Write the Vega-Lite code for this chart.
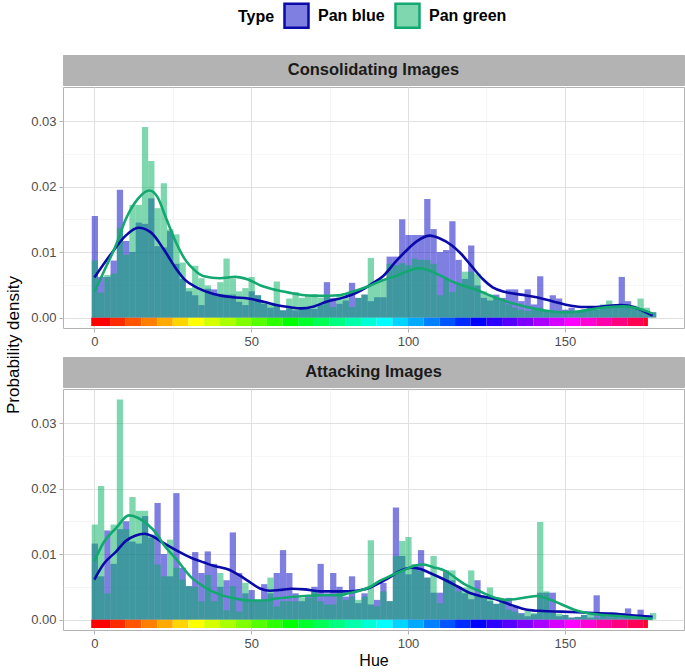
{
"$schema": "https://vega.github.io/schema/vega-lite/v6.json",
"padding": {"left": 4, "top": 2, "right": 2, "bottom": 2},
"background": "white",
"config": {
 "font": "Liberation Sans",
 "view": {"stroke": "#b3b3b3", "strokeWidth": 1},
 "axis": {"domain": false, "grid": true, "labelColor": "#4d4d4d", "labelFontSize": 13, "labelPadding": 3, "tickColor": "#b3b3b3", "tickSize": 4, "titleFontWeight": "normal", "titleColor": "#000000", "gridColor": "#e3e3e3"}
},
"datasets": {
 "band": [
  {"band":0,"start":-1,"end":5},{"band":1,"start":5,"end":10},{"band":2,"start":10,"end":15},{"band":3,"start":15,"end":20},{"band":4,"start":20,"end":25},{"band":5,"start":25,"end":30},{"band":6,"start":30,"end":35},{"band":7,"start":35,"end":40},{"band":8,"start":40,"end":45},{"band":9,"start":45,"end":50},{"band":10,"start":50,"end":55},{"band":11,"start":55,"end":60},{"band":12,"start":60,"end":65},{"band":13,"start":65,"end":70},{"band":14,"start":70,"end":75},{"band":15,"start":75,"end":80},{"band":16,"start":80,"end":85},{"band":17,"start":85,"end":90},{"band":18,"start":90,"end":95},{"band":19,"start":95,"end":100},{"band":20,"start":100,"end":105},{"band":21,"start":105,"end":110},{"band":22,"start":110,"end":115},{"band":23,"start":115,"end":120},{"band":24,"start":120,"end":125},{"band":25,"start":125,"end":130},{"band":26,"start":130,"end":135},{"band":27,"start":135,"end":140},{"band":28,"start":140,"end":145},{"band":29,"start":145,"end":150},{"band":30,"start":150,"end":155},{"band":31,"start":155,"end":160},{"band":32,"start":160,"end":165},{"band":33,"start":165,"end":170},{"band":34,"start":170,"end":175},{"band":35,"start":175,"end":176.5}
 ],
 "bars": [
{"panel":"Consolidating","type":"Pan blue","hue":0,"density":0.0155},{"panel":"Consolidating","type":"Pan blue","hue":2,"density":0.0062},{"panel":"Consolidating","type":"Pan blue","hue":4,"density":0.0062},{"panel":"Consolidating","type":"Pan blue","hue":6,"density":0.0087},{"panel":"Consolidating","type":"Pan blue","hue":8,"density":0.0195},{"panel":"Consolidating","type":"Pan blue","hue":10,"density":0.0117},{"panel":"Consolidating","type":"Pan blue","hue":12,"density":0.0100},{"panel":"Consolidating","type":"Pan blue","hue":14,"density":0.0145},{"panel":"Consolidating","type":"Pan blue","hue":16,"density":0.0143},{"panel":"Consolidating","type":"Pan blue","hue":18,"density":0.0182},
{"panel":"Consolidating","type":"Pan blue","hue":20,"density":0.0109},{"panel":"Consolidating","type":"Pan blue","hue":22,"density":0.0107},{"panel":"Consolidating","type":"Pan blue","hue":24,"density":0.0132},{"panel":"Consolidating","type":"Pan blue","hue":26,"density":0.0082},{"panel":"Consolidating","type":"Pan blue","hue":28,"density":0.0059},{"panel":"Consolidating","type":"Pan blue","hue":30,"density":0.0040},{"panel":"Consolidating","type":"Pan blue","hue":32,"density":0.0034},{"panel":"Consolidating","type":"Pan blue","hue":34,"density":0.0019},{"panel":"Consolidating","type":"Pan blue","hue":36,"density":0.0044},{"panel":"Consolidating","type":"Pan blue","hue":38,"density":0.0043},
{"panel":"Consolidating","type":"Pan blue","hue":40,"density":0.0035},{"panel":"Consolidating","type":"Pan blue","hue":42,"density":0.0035},{"panel":"Consolidating","type":"Pan blue","hue":44,"density":0.0035},{"panel":"Consolidating","type":"Pan blue","hue":46,"density":0.0024},{"panel":"Consolidating","type":"Pan blue","hue":48,"density":0.0019},{"panel":"Consolidating","type":"Pan blue","hue":50,"density":0.0040},{"panel":"Consolidating","type":"Pan blue","hue":52,"density":0.0034},{"panel":"Consolidating","type":"Pan blue","hue":54,"density":0.0021},{"panel":"Consolidating","type":"Pan blue","hue":56,"density":0.0015},{"panel":"Consolidating","type":"Pan blue","hue":58,"density":0.0019},
{"panel":"Consolidating","type":"Pan blue","hue":60,"density":0.0011},{"panel":"Consolidating","type":"Pan blue","hue":62,"density":0.0014},{"panel":"Consolidating","type":"Pan blue","hue":64,"density":0.0011},{"panel":"Consolidating","type":"Pan blue","hue":66,"density":0.0015},{"panel":"Consolidating","type":"Pan blue","hue":68,"density":0.0013},{"panel":"Consolidating","type":"Pan blue","hue":70,"density":0.0013},{"panel":"Consolidating","type":"Pan blue","hue":72,"density":0.0020},{"panel":"Consolidating","type":"Pan blue","hue":74,"density":0.0054},{"panel":"Consolidating","type":"Pan blue","hue":76,"density":0.0030},{"panel":"Consolidating","type":"Pan blue","hue":78,"density":0.0021},
{"panel":"Consolidating","type":"Pan blue","hue":80,"density":0.0026},{"panel":"Consolidating","type":"Pan blue","hue":82,"density":0.0053},{"panel":"Consolidating","type":"Pan blue","hue":84,"density":0.0030},{"panel":"Consolidating","type":"Pan blue","hue":86,"density":0.0035},{"panel":"Consolidating","type":"Pan blue","hue":88,"density":0.0025},{"panel":"Consolidating","type":"Pan blue","hue":90,"density":0.0031},{"panel":"Consolidating","type":"Pan blue","hue":92,"density":0.0031},{"panel":"Consolidating","type":"Pan blue","hue":94,"density":0.0093},{"panel":"Consolidating","type":"Pan blue","hue":96,"density":0.0093},{"panel":"Consolidating","type":"Pan blue","hue":98,"density":0.0150},
{"panel":"Consolidating","type":"Pan blue","hue":100,"density":0.0126},{"panel":"Consolidating","type":"Pan blue","hue":102,"density":0.0126},{"panel":"Consolidating","type":"Pan blue","hue":104,"density":0.0126},{"panel":"Consolidating","type":"Pan blue","hue":106,"density":0.0181},{"panel":"Consolidating","type":"Pan blue","hue":108,"density":0.0135},{"panel":"Consolidating","type":"Pan blue","hue":110,"density":0.0100},{"panel":"Consolidating","type":"Pan blue","hue":112,"density":0.0103},{"panel":"Consolidating","type":"Pan blue","hue":114,"density":0.0147},{"panel":"Consolidating","type":"Pan blue","hue":116,"density":0.0088},{"panel":"Consolidating","type":"Pan blue","hue":118,"density":0.0059},
{"panel":"Consolidating","type":"Pan blue","hue":120,"density":0.0110},{"panel":"Consolidating","type":"Pan blue","hue":122,"density":0.0049},{"panel":"Consolidating","type":"Pan blue","hue":124,"density":0.0030},{"panel":"Consolidating","type":"Pan blue","hue":126,"density":0.0026},{"panel":"Consolidating","type":"Pan blue","hue":128,"density":0.0035},{"panel":"Consolidating","type":"Pan blue","hue":130,"density":0.0030},{"panel":"Consolidating","type":"Pan blue","hue":132,"density":0.0043},{"panel":"Consolidating","type":"Pan blue","hue":134,"density":0.0043},{"panel":"Consolidating","type":"Pan blue","hue":136,"density":0.0025},{"panel":"Consolidating","type":"Pan blue","hue":138,"density":0.0043},
{"panel":"Consolidating","type":"Pan blue","hue":140,"density":0.0020},{"panel":"Consolidating","type":"Pan blue","hue":142,"density":0.0063},{"panel":"Consolidating","type":"Pan blue","hue":144,"density":0.0010},{"panel":"Consolidating","type":"Pan blue","hue":146,"density":0.0034},{"panel":"Consolidating","type":"Pan blue","hue":148,"density":0.0029},{"panel":"Consolidating","type":"Pan blue","hue":150,"density":0.0012},{"panel":"Consolidating","type":"Pan blue","hue":152,"density":0.0015},{"panel":"Consolidating","type":"Pan blue","hue":154,"density":0.0010},{"panel":"Consolidating","type":"Pan blue","hue":156,"density":0.0012},{"panel":"Consolidating","type":"Pan blue","hue":158,"density":0.0015},
{"panel":"Consolidating","type":"Pan blue","hue":160,"density":0.0012},{"panel":"Consolidating","type":"Pan blue","hue":162,"density":0.0015},{"panel":"Consolidating","type":"Pan blue","hue":164,"density":0.0015},{"panel":"Consolidating","type":"Pan blue","hue":166,"density":0.0020},{"panel":"Consolidating","type":"Pan blue","hue":168,"density":0.0062},{"panel":"Consolidating","type":"Pan blue","hue":170,"density":0.0025},{"panel":"Consolidating","type":"Pan blue","hue":172,"density":0.0015},{"panel":"Consolidating","type":"Pan blue","hue":174,"density":0.0014},{"panel":"Consolidating","type":"Pan blue","hue":176,"density":0.0010},{"panel":"Consolidating","type":"Pan blue","hue":178,"density":0.0008},
{"panel":"Attacking","type":"Pan blue","hue":0,"density":0.0116},{"panel":"Attacking","type":"Pan blue","hue":2,"density":0.0066},{"panel":"Attacking","type":"Pan blue","hue":4,"density":0.0136},{"panel":"Attacking","type":"Pan blue","hue":6,"density":0.0085},{"panel":"Attacking","type":"Pan blue","hue":8,"density":0.0138},{"panel":"Attacking","type":"Pan blue","hue":10,"density":0.0150},{"panel":"Attacking","type":"Pan blue","hue":12,"density":0.0119},{"panel":"Attacking","type":"Pan blue","hue":14,"density":0.0116},{"panel":"Attacking","type":"Pan blue","hue":16,"density":0.0158},{"panel":"Attacking","type":"Pan blue","hue":18,"density":0.0125},
{"panel":"Attacking","type":"Pan blue","hue":20,"density":0.0178},{"panel":"Attacking","type":"Pan blue","hue":22,"density":0.0100},{"panel":"Attacking","type":"Pan blue","hue":24,"density":0.0066},{"panel":"Attacking","type":"Pan blue","hue":26,"density":0.0193},{"panel":"Attacking","type":"Pan blue","hue":28,"density":0.0079},{"panel":"Attacking","type":"Pan blue","hue":30,"density":0.0051},{"panel":"Attacking","type":"Pan blue","hue":32,"density":0.0103},{"panel":"Attacking","type":"Pan blue","hue":34,"density":0.0071},{"panel":"Attacking","type":"Pan blue","hue":36,"density":0.0104},{"panel":"Attacking","type":"Pan blue","hue":38,"density":0.0085},
{"panel":"Attacking","type":"Pan blue","hue":40,"density":0.0050},{"panel":"Attacking","type":"Pan blue","hue":42,"density":0.0060},{"panel":"Attacking","type":"Pan blue","hue":44,"density":0.0133},{"panel":"Attacking","type":"Pan blue","hue":46,"density":0.0071},{"panel":"Attacking","type":"Pan blue","hue":48,"density":0.0040},{"panel":"Attacking","type":"Pan blue","hue":50,"density":0.0045},{"panel":"Attacking","type":"Pan blue","hue":52,"density":0.0030},{"panel":"Attacking","type":"Pan blue","hue":54,"density":0.0054},{"panel":"Attacking","type":"Pan blue","hue":56,"density":0.0040},{"panel":"Attacking","type":"Pan blue","hue":58,"density":0.0071},
{"panel":"Attacking","type":"Pan blue","hue":60,"density":0.0106},{"panel":"Attacking","type":"Pan blue","hue":62,"density":0.0071},{"panel":"Attacking","type":"Pan blue","hue":64,"density":0.0040},{"panel":"Attacking","type":"Pan blue","hue":66,"density":0.0028},{"panel":"Attacking","type":"Pan blue","hue":68,"density":0.0035},{"panel":"Attacking","type":"Pan blue","hue":70,"density":0.0050},{"panel":"Attacking","type":"Pan blue","hue":72,"density":0.0085},{"panel":"Attacking","type":"Pan blue","hue":74,"density":0.0040},{"panel":"Attacking","type":"Pan blue","hue":76,"density":0.0071},{"panel":"Attacking","type":"Pan blue","hue":78,"density":0.0050},
{"panel":"Attacking","type":"Pan blue","hue":80,"density":0.0035},{"panel":"Attacking","type":"Pan blue","hue":82,"density":0.0066},{"panel":"Attacking","type":"Pan blue","hue":84,"density":0.0025},{"panel":"Attacking","type":"Pan blue","hue":86,"density":0.0040},{"panel":"Attacking","type":"Pan blue","hue":88,"density":0.0023},{"panel":"Attacking","type":"Pan blue","hue":90,"density":0.0030},{"panel":"Attacking","type":"Pan blue","hue":92,"density":0.0056},{"panel":"Attacking","type":"Pan blue","hue":94,"density":0.0028},{"panel":"Attacking","type":"Pan blue","hue":96,"density":0.0171},{"panel":"Attacking","type":"Pan blue","hue":98,"density":0.0097},
{"panel":"Attacking","type":"Pan blue","hue":100,"density":0.0069},{"panel":"Attacking","type":"Pan blue","hue":102,"density":0.0084},{"panel":"Attacking","type":"Pan blue","hue":104,"density":0.0106},{"panel":"Attacking","type":"Pan blue","hue":106,"density":0.0064},{"panel":"Attacking","type":"Pan blue","hue":108,"density":0.0041},{"panel":"Attacking","type":"Pan blue","hue":110,"density":0.0041},{"panel":"Attacking","type":"Pan blue","hue":112,"density":0.0075},{"panel":"Attacking","type":"Pan blue","hue":114,"density":0.0060},{"panel":"Attacking","type":"Pan blue","hue":116,"density":0.0050},{"panel":"Attacking","type":"Pan blue","hue":118,"density":0.0040},
{"panel":"Attacking","type":"Pan blue","hue":120,"density":0.0031},{"panel":"Attacking","type":"Pan blue","hue":122,"density":0.0060},{"panel":"Attacking","type":"Pan blue","hue":124,"density":0.0035},{"panel":"Attacking","type":"Pan blue","hue":126,"density":0.0028},{"panel":"Attacking","type":"Pan blue","hue":128,"density":0.0024},{"panel":"Attacking","type":"Pan blue","hue":130,"density":0.0030},{"panel":"Attacking","type":"Pan blue","hue":132,"density":0.0033},{"panel":"Attacking","type":"Pan blue","hue":134,"density":0.0020},{"panel":"Attacking","type":"Pan blue","hue":136,"density":0.0010},{"panel":"Attacking","type":"Pan blue","hue":138,"density":0.0005},
{"panel":"Attacking","type":"Pan blue","hue":140,"density":0.0008},{"panel":"Attacking","type":"Pan blue","hue":142,"density":0.0041},{"panel":"Attacking","type":"Pan blue","hue":144,"density":0.0041},{"panel":"Attacking","type":"Pan blue","hue":146,"density":0.0041},{"panel":"Attacking","type":"Pan blue","hue":148,"density":0.0005},{"panel":"Attacking","type":"Pan blue","hue":150,"density":0.0007},{"panel":"Attacking","type":"Pan blue","hue":152,"density":0.0003},{"panel":"Attacking","type":"Pan blue","hue":154,"density":0.0004},{"panel":"Attacking","type":"Pan blue","hue":156,"density":0.0007},{"panel":"Attacking","type":"Pan blue","hue":158,"density":0.0003},
{"panel":"Attacking","type":"Pan blue","hue":160,"density":0.0037},{"panel":"Attacking","type":"Pan blue","hue":162,"density":0.0008},{"panel":"Attacking","type":"Pan blue","hue":164,"density":0.0005},{"panel":"Attacking","type":"Pan blue","hue":166,"density":0.0006},{"panel":"Attacking","type":"Pan blue","hue":168,"density":0.0010},{"panel":"Attacking","type":"Pan blue","hue":170,"density":0.0017},{"panel":"Attacking","type":"Pan blue","hue":172,"density":0.0007},{"panel":"Attacking","type":"Pan blue","hue":174,"density":0.0015},{"panel":"Attacking","type":"Pan blue","hue":176,"density":0.0006},{"panel":"Attacking","type":"Pan blue","hue":178,"density":0.0000},
{"panel":"Consolidating","type":"Pan green","hue":0,"density":0.0087},{"panel":"Consolidating","type":"Pan green","hue":2,"density":0.0038},{"panel":"Consolidating","type":"Pan green","hue":4,"density":0.0065},{"panel":"Consolidating","type":"Pan green","hue":6,"density":0.0067},{"panel":"Consolidating","type":"Pan green","hue":8,"density":0.0137},{"panel":"Consolidating","type":"Pan green","hue":10,"density":0.0096},{"panel":"Consolidating","type":"Pan green","hue":12,"density":0.0172},{"panel":"Consolidating","type":"Pan green","hue":14,"density":0.0172},{"panel":"Consolidating","type":"Pan green","hue":16,"density":0.0291},{"panel":"Consolidating","type":"Pan green","hue":18,"density":0.0239},
{"panel":"Consolidating","type":"Pan green","hue":20,"density":0.0167},{"panel":"Consolidating","type":"Pan green","hue":22,"density":0.0205},{"panel":"Consolidating","type":"Pan green","hue":24,"density":0.0135},{"panel":"Consolidating","type":"Pan green","hue":26,"density":0.0127},{"panel":"Consolidating","type":"Pan green","hue":28,"density":0.0084},{"panel":"Consolidating","type":"Pan green","hue":30,"density":0.0045},{"panel":"Consolidating","type":"Pan green","hue":32,"density":0.0079},{"panel":"Consolidating","type":"Pan green","hue":34,"density":0.0060},{"panel":"Consolidating","type":"Pan green","hue":36,"density":0.0049},{"panel":"Consolidating","type":"Pan green","hue":38,"density":0.0034},
{"panel":"Consolidating","type":"Pan green","hue":40,"density":0.0054},{"panel":"Consolidating","type":"Pan green","hue":42,"density":0.0090},{"panel":"Consolidating","type":"Pan green","hue":44,"density":0.0059},{"panel":"Consolidating","type":"Pan green","hue":46,"density":0.0040},{"panel":"Consolidating","type":"Pan green","hue":48,"density":0.0045},{"panel":"Consolidating","type":"Pan green","hue":50,"density":0.0062},{"panel":"Consolidating","type":"Pan green","hue":52,"density":0.0034},{"panel":"Consolidating","type":"Pan green","hue":54,"density":0.0024},{"panel":"Consolidating","type":"Pan green","hue":56,"density":0.0020},{"panel":"Consolidating","type":"Pan green","hue":58,"density":0.0055},
{"panel":"Consolidating","type":"Pan green","hue":60,"density":0.0011},{"panel":"Consolidating","type":"Pan green","hue":62,"density":0.0029},{"panel":"Consolidating","type":"Pan green","hue":64,"density":0.0039},{"panel":"Consolidating","type":"Pan green","hue":66,"density":0.0030},{"panel":"Consolidating","type":"Pan green","hue":68,"density":0.0035},{"panel":"Consolidating","type":"Pan green","hue":70,"density":0.0036},{"panel":"Consolidating","type":"Pan green","hue":72,"density":0.0030},{"panel":"Consolidating","type":"Pan green","hue":74,"density":0.0034},{"panel":"Consolidating","type":"Pan green","hue":76,"density":0.0016},{"panel":"Consolidating","type":"Pan green","hue":78,"density":0.0036},
{"panel":"Consolidating","type":"Pan green","hue":80,"density":0.0030},{"panel":"Consolidating","type":"Pan green","hue":82,"density":0.0016},{"panel":"Consolidating","type":"Pan green","hue":84,"density":0.0030},{"panel":"Consolidating","type":"Pan green","hue":86,"density":0.0035},{"panel":"Consolidating","type":"Pan green","hue":88,"density":0.0091},{"panel":"Consolidating","type":"Pan green","hue":90,"density":0.0055},{"panel":"Consolidating","type":"Pan green","hue":92,"density":0.0059},{"panel":"Consolidating","type":"Pan green","hue":94,"density":0.0082},{"panel":"Consolidating","type":"Pan green","hue":96,"density":0.0080},{"panel":"Consolidating","type":"Pan green","hue":98,"density":0.0083},
{"panel":"Consolidating","type":"Pan green","hue":100,"density":0.0080},{"panel":"Consolidating","type":"Pan green","hue":102,"density":0.0090},{"panel":"Consolidating","type":"Pan green","hue":104,"density":0.0088},{"panel":"Consolidating","type":"Pan green","hue":106,"density":0.0088},{"panel":"Consolidating","type":"Pan green","hue":108,"density":0.0082},{"panel":"Consolidating","type":"Pan green","hue":110,"density":0.0034},{"panel":"Consolidating","type":"Pan green","hue":112,"density":0.0059},{"panel":"Consolidating","type":"Pan green","hue":114,"density":0.0039},{"panel":"Consolidating","type":"Pan green","hue":116,"density":0.0049},{"panel":"Consolidating","type":"Pan green","hue":118,"density":0.0070},
{"panel":"Consolidating","type":"Pan green","hue":120,"density":0.0070},{"panel":"Consolidating","type":"Pan green","hue":122,"density":0.0067},{"panel":"Consolidating","type":"Pan green","hue":124,"density":0.0040},{"panel":"Consolidating","type":"Pan green","hue":126,"density":0.0035},{"panel":"Consolidating","type":"Pan green","hue":128,"density":0.0030},{"panel":"Consolidating","type":"Pan green","hue":130,"density":0.0025},{"panel":"Consolidating","type":"Pan green","hue":132,"density":0.0020},{"panel":"Consolidating","type":"Pan green","hue":134,"density":0.0015},{"panel":"Consolidating","type":"Pan green","hue":136,"density":0.0012},{"panel":"Consolidating","type":"Pan green","hue":138,"density":0.0010},
{"panel":"Consolidating","type":"Pan green","hue":140,"density":0.0012},{"panel":"Consolidating","type":"Pan green","hue":142,"density":0.0015},{"panel":"Consolidating","type":"Pan green","hue":144,"density":0.0010},{"panel":"Consolidating","type":"Pan green","hue":146,"density":0.0008},{"panel":"Consolidating","type":"Pan green","hue":148,"density":0.0010},{"panel":"Consolidating","type":"Pan green","hue":150,"density":0.0008},{"panel":"Consolidating","type":"Pan green","hue":152,"density":0.0007},{"panel":"Consolidating","type":"Pan green","hue":154,"density":0.0010},{"panel":"Consolidating","type":"Pan green","hue":156,"density":0.0012},{"panel":"Consolidating","type":"Pan green","hue":158,"density":0.0015},
{"panel":"Consolidating","type":"Pan green","hue":160,"density":0.0015},{"panel":"Consolidating","type":"Pan green","hue":162,"density":0.0020},{"panel":"Consolidating","type":"Pan green","hue":164,"density":0.0026},{"panel":"Consolidating","type":"Pan green","hue":166,"density":0.0018},{"panel":"Consolidating","type":"Pan green","hue":168,"density":0.0015},{"panel":"Consolidating","type":"Pan green","hue":170,"density":0.0020},{"panel":"Consolidating","type":"Pan green","hue":172,"density":0.0018},{"panel":"Consolidating","type":"Pan green","hue":174,"density":0.0029},{"panel":"Consolidating","type":"Pan green","hue":176,"density":0.0015},{"panel":"Consolidating","type":"Pan green","hue":178,"density":0.0008},
{"panel":"Attacking","type":"Pan green","hue":0,"density":0.0145},{"panel":"Attacking","type":"Pan green","hue":2,"density":0.0204},{"panel":"Attacking","type":"Pan green","hue":4,"density":0.0040},{"panel":"Attacking","type":"Pan green","hue":6,"density":0.0145},{"panel":"Attacking","type":"Pan green","hue":8,"density":0.0336},{"panel":"Attacking","type":"Pan green","hue":10,"density":0.0138},{"panel":"Attacking","type":"Pan green","hue":12,"density":0.0187},{"panel":"Attacking","type":"Pan green","hue":14,"density":0.0166},{"panel":"Attacking","type":"Pan green","hue":16,"density":0.0166},{"panel":"Attacking","type":"Pan green","hue":18,"density":0.0130},
{"panel":"Attacking","type":"Pan green","hue":20,"density":0.0084},{"panel":"Attacking","type":"Pan green","hue":22,"density":0.0066},{"panel":"Attacking","type":"Pan green","hue":24,"density":0.0122},{"panel":"Attacking","type":"Pan green","hue":26,"density":0.0079},{"panel":"Attacking","type":"Pan green","hue":28,"density":0.0061},{"panel":"Attacking","type":"Pan green","hue":30,"density":0.0051},{"panel":"Attacking","type":"Pan green","hue":32,"density":0.0050},{"panel":"Attacking","type":"Pan green","hue":34,"density":0.0028},{"panel":"Attacking","type":"Pan green","hue":36,"density":0.0068},{"panel":"Attacking","type":"Pan green","hue":38,"density":0.0028},
{"panel":"Attacking","type":"Pan green","hue":40,"density":0.0071},{"panel":"Attacking","type":"Pan green","hue":42,"density":0.0014},{"panel":"Attacking","type":"Pan green","hue":44,"density":0.0051},{"panel":"Attacking","type":"Pan green","hue":46,"density":0.0012},{"panel":"Attacking","type":"Pan green","hue":48,"density":0.0056},{"panel":"Attacking","type":"Pan green","hue":50,"density":0.0028},{"panel":"Attacking","type":"Pan green","hue":52,"density":0.0028},{"panel":"Attacking","type":"Pan green","hue":54,"density":0.0028},{"panel":"Attacking","type":"Pan green","hue":56,"density":0.0064},{"panel":"Attacking","type":"Pan green","hue":58,"density":0.0020},
{"panel":"Attacking","type":"Pan green","hue":60,"density":0.0028},{"panel":"Attacking","type":"Pan green","hue":62,"density":0.0028},{"panel":"Attacking","type":"Pan green","hue":64,"density":0.0028},{"panel":"Attacking","type":"Pan green","hue":66,"density":0.0033},{"panel":"Attacking","type":"Pan green","hue":68,"density":0.0033},{"panel":"Attacking","type":"Pan green","hue":70,"density":0.0045},{"panel":"Attacking","type":"Pan green","hue":72,"density":0.0028},{"panel":"Attacking","type":"Pan green","hue":74,"density":0.0023},{"panel":"Attacking","type":"Pan green","hue":76,"density":0.0023},{"panel":"Attacking","type":"Pan green","hue":78,"density":0.0045},
{"panel":"Attacking","type":"Pan green","hue":80,"density":0.0030},{"panel":"Attacking","type":"Pan green","hue":82,"density":0.0035},{"panel":"Attacking","type":"Pan green","hue":84,"density":0.0030},{"panel":"Attacking","type":"Pan green","hue":86,"density":0.0035},{"panel":"Attacking","type":"Pan green","hue":88,"density":0.0121},{"panel":"Attacking","type":"Pan green","hue":90,"density":0.0020},{"panel":"Attacking","type":"Pan green","hue":92,"density":0.0043},{"panel":"Attacking","type":"Pan green","hue":94,"density":0.0028},{"panel":"Attacking","type":"Pan green","hue":96,"density":0.0097},{"panel":"Attacking","type":"Pan green","hue":98,"density":0.0120},
{"panel":"Attacking","type":"Pan green","hue":100,"density":0.0126},{"panel":"Attacking","type":"Pan green","hue":102,"density":0.0084},{"panel":"Attacking","type":"Pan green","hue":104,"density":0.0074},{"panel":"Attacking","type":"Pan green","hue":106,"density":0.0064},{"panel":"Attacking","type":"Pan green","hue":108,"density":0.0097},{"panel":"Attacking","type":"Pan green","hue":110,"density":0.0025},{"panel":"Attacking","type":"Pan green","hue":112,"density":0.0071},{"panel":"Attacking","type":"Pan green","hue":114,"density":0.0075},{"panel":"Attacking","type":"Pan green","hue":116,"density":0.0043},{"panel":"Attacking","type":"Pan green","hue":118,"density":0.0049},
{"panel":"Attacking","type":"Pan green","hue":120,"density":0.0075},{"panel":"Attacking","type":"Pan green","hue":122,"density":0.0038},{"panel":"Attacking","type":"Pan green","hue":124,"density":0.0035},{"panel":"Attacking","type":"Pan green","hue":126,"density":0.0049},{"panel":"Attacking","type":"Pan green","hue":128,"density":0.0024},{"panel":"Attacking","type":"Pan green","hue":130,"density":0.0028},{"panel":"Attacking","type":"Pan green","hue":132,"density":0.0015},{"panel":"Attacking","type":"Pan green","hue":134,"density":0.0012},{"panel":"Attacking","type":"Pan green","hue":136,"density":0.0008},{"panel":"Attacking","type":"Pan green","hue":138,"density":0.0013},
{"panel":"Attacking","type":"Pan green","hue":140,"density":0.0010},{"panel":"Attacking","type":"Pan green","hue":142,"density":0.0149},{"panel":"Attacking","type":"Pan green","hue":144,"density":0.0043},{"panel":"Attacking","type":"Pan green","hue":146,"density":0.0010},{"panel":"Attacking","type":"Pan green","hue":148,"density":0.0009},{"panel":"Attacking","type":"Pan green","hue":150,"density":0.0007},{"panel":"Attacking","type":"Pan green","hue":152,"density":0.0003},{"panel":"Attacking","type":"Pan green","hue":154,"density":0.0004},{"panel":"Attacking","type":"Pan green","hue":156,"density":0.0007},{"panel":"Attacking","type":"Pan green","hue":158,"density":0.0008},
{"panel":"Attacking","type":"Pan green","hue":160,"density":0.0003},{"panel":"Attacking","type":"Pan green","hue":162,"density":0.0005},{"panel":"Attacking","type":"Pan green","hue":164,"density":0.0003},{"panel":"Attacking","type":"Pan green","hue":166,"density":0.0004},{"panel":"Attacking","type":"Pan green","hue":168,"density":0.0002},{"panel":"Attacking","type":"Pan green","hue":170,"density":0.0003},{"panel":"Attacking","type":"Pan green","hue":172,"density":0.0002},{"panel":"Attacking","type":"Pan green","hue":174,"density":0.0002},{"panel":"Attacking","type":"Pan green","hue":176,"density":0.0003},{"panel":"Attacking","type":"Pan green","hue":178,"density":0.0010}
 ],
 "curves": [
{"panel":"Consolidating","type":"Pan blue","hue":0,"density":0.0061},{"panel":"Consolidating","type":"Pan blue","hue":5,"density":0.0095},{"panel":"Consolidating","type":"Pan blue","hue":10,"density":0.0125},{"panel":"Consolidating","type":"Pan blue","hue":14,"density":0.0137},{"panel":"Consolidating","type":"Pan blue","hue":18,"density":0.0130},{"panel":"Consolidating","type":"Pan blue","hue":22,"density":0.0105},{"panel":"Consolidating","type":"Pan blue","hue":26,"density":0.0075},{"panel":"Consolidating","type":"Pan blue","hue":29,"density":0.0057},{"panel":"Consolidating","type":"Pan blue","hue":33,"density":0.0045},{"panel":"Consolidating","type":"Pan blue","hue":38,"density":0.0036},{"panel":"Consolidating","type":"Pan blue","hue":44,"density":0.0031},{"panel":"Consolidating","type":"Pan blue","hue":49,"density":0.0029},{"panel":"Consolidating","type":"Pan blue","hue":54,"density":0.0024},{"panel":"Consolidating","type":"Pan blue","hue":58,"density":0.0019},{"panel":"Consolidating","type":"Pan blue","hue":62,"density":0.0016},{"panel":"Consolidating","type":"Pan blue","hue":66,"density":0.0014},{"panel":"Consolidating","type":"Pan blue","hue":70,"density":0.0017},{"panel":"Consolidating","type":"Pan blue","hue":74,"density":0.0024},{"panel":"Consolidating","type":"Pan blue","hue":79,"density":0.0030},{"panel":"Consolidating","type":"Pan blue","hue":84,"density":0.0039},{"panel":"Consolidating","type":"Pan blue","hue":88,"density":0.0050},{"panel":"Consolidating","type":"Pan blue","hue":92,"density":0.0063},{"panel":"Consolidating","type":"Pan blue","hue":96,"density":0.0085},{"panel":"Consolidating","type":"Pan blue","hue":99,"density":0.0100},{"panel":"Consolidating","type":"Pan blue","hue":103,"density":0.0117},{"panel":"Consolidating","type":"Pan blue","hue":107,"density":0.0125},{"panel":"Consolidating","type":"Pan blue","hue":110,"density":0.0121},{"panel":"Consolidating","type":"Pan blue","hue":114,"density":0.0110},{"panel":"Consolidating","type":"Pan blue","hue":117,"density":0.0097},{"panel":"Consolidating","type":"Pan blue","hue":120,"density":0.0080},{"panel":"Consolidating","type":"Pan blue","hue":124,"density":0.0058},{"panel":"Consolidating","type":"Pan blue","hue":127,"density":0.0046},{"panel":"Consolidating","type":"Pan blue","hue":131,"density":0.0039},{"panel":"Consolidating","type":"Pan blue","hue":136,"density":0.0035},{"panel":"Consolidating","type":"Pan blue","hue":141,"density":0.0031},{"panel":"Consolidating","type":"Pan blue","hue":146,"density":0.0025},{"panel":"Consolidating","type":"Pan blue","hue":152,"density":0.0018},{"panel":"Consolidating","type":"Pan blue","hue":156,"density":0.0016},{"panel":"Consolidating","type":"Pan blue","hue":160,"density":0.0016},{"panel":"Consolidating","type":"Pan blue","hue":164,"density":0.0018},{"panel":"Consolidating","type":"Pan blue","hue":168,"density":0.0019},{"panel":"Consolidating","type":"Pan blue","hue":172,"density":0.0016},{"panel":"Consolidating","type":"Pan blue","hue":175,"density":0.0010},{"panel":"Consolidating","type":"Pan blue","hue":178,"density":0.0003},
{"panel":"Consolidating","type":"Pan green","hue":0,"density":0.0039},{"panel":"Consolidating","type":"Pan green","hue":3,"density":0.0070},{"panel":"Consolidating","type":"Pan green","hue":7,"density":0.0112},{"panel":"Consolidating","type":"Pan green","hue":10,"density":0.0150},{"panel":"Consolidating","type":"Pan green","hue":14,"density":0.0182},{"panel":"Consolidating","type":"Pan green","hue":17.5,"density":0.0194},{"panel":"Consolidating","type":"Pan green","hue":20,"density":0.0185},{"panel":"Consolidating","type":"Pan green","hue":23,"density":0.0150},{"panel":"Consolidating","type":"Pan green","hue":26,"density":0.0115},{"panel":"Consolidating","type":"Pan green","hue":29,"density":0.0088},{"panel":"Consolidating","type":"Pan green","hue":32,"density":0.0072},{"panel":"Consolidating","type":"Pan green","hue":35,"density":0.0063},{"panel":"Consolidating","type":"Pan green","hue":40,"density":0.0060},{"panel":"Consolidating","type":"Pan green","hue":45,"density":0.0062},{"panel":"Consolidating","type":"Pan green","hue":49,"density":0.0058},{"panel":"Consolidating","type":"Pan green","hue":53,"density":0.0049},{"panel":"Consolidating","type":"Pan green","hue":58,"density":0.0042},{"panel":"Consolidating","type":"Pan green","hue":62,"density":0.0038},{"panel":"Consolidating","type":"Pan green","hue":67,"density":0.0034},{"panel":"Consolidating","type":"Pan green","hue":72,"density":0.0033},{"panel":"Consolidating","type":"Pan green","hue":78,"density":0.0034},{"panel":"Consolidating","type":"Pan green","hue":82,"density":0.0039},{"panel":"Consolidating","type":"Pan green","hue":88,"density":0.0049},{"panel":"Consolidating","type":"Pan green","hue":92,"density":0.0057},{"panel":"Consolidating","type":"Pan green","hue":97,"density":0.0065},{"panel":"Consolidating","type":"Pan green","hue":100,"density":0.0071},{"panel":"Consolidating","type":"Pan green","hue":103,"density":0.0075},{"panel":"Consolidating","type":"Pan green","hue":106,"density":0.0073},{"panel":"Consolidating","type":"Pan green","hue":109,"density":0.0067},{"panel":"Consolidating","type":"Pan green","hue":112,"density":0.0060},{"panel":"Consolidating","type":"Pan green","hue":115,"density":0.0053},{"panel":"Consolidating","type":"Pan green","hue":118,"density":0.0048},{"panel":"Consolidating","type":"Pan green","hue":122,"density":0.0042},{"panel":"Consolidating","type":"Pan green","hue":127,"density":0.0032},{"panel":"Consolidating","type":"Pan green","hue":133,"density":0.0022},{"panel":"Consolidating","type":"Pan green","hue":138,"density":0.0016},{"panel":"Consolidating","type":"Pan green","hue":143,"density":0.0011},{"panel":"Consolidating","type":"Pan green","hue":149,"density":0.0008},{"panel":"Consolidating","type":"Pan green","hue":154,"density":0.0009},{"panel":"Consolidating","type":"Pan green","hue":159,"density":0.0013},{"panel":"Consolidating","type":"Pan green","hue":164,"density":0.0016},{"panel":"Consolidating","type":"Pan green","hue":169,"density":0.0017},{"panel":"Consolidating","type":"Pan green","hue":173,"density":0.0014},{"panel":"Consolidating","type":"Pan green","hue":178,"density":0.0006},
{"panel":"Attacking","type":"Pan blue","hue":0,"density":0.0061},{"panel":"Attacking","type":"Pan blue","hue":3,"density":0.0085},{"panel":"Attacking","type":"Pan blue","hue":7,"density":0.0104},{"panel":"Attacking","type":"Pan blue","hue":10,"density":0.0120},{"panel":"Attacking","type":"Pan blue","hue":13,"density":0.0128},{"panel":"Attacking","type":"Pan blue","hue":16,"density":0.0131},{"panel":"Attacking","type":"Pan blue","hue":19,"density":0.0126},{"panel":"Attacking","type":"Pan blue","hue":22,"density":0.0117},{"panel":"Attacking","type":"Pan blue","hue":26,"density":0.0106},{"panel":"Attacking","type":"Pan blue","hue":31,"density":0.0094},{"panel":"Attacking","type":"Pan blue","hue":35,"density":0.0087},{"panel":"Attacking","type":"Pan blue","hue":38,"density":0.0082},{"panel":"Attacking","type":"Pan blue","hue":43,"density":0.0076},{"panel":"Attacking","type":"Pan blue","hue":46,"density":0.0068},{"panel":"Attacking","type":"Pan blue","hue":49,"density":0.0059},{"panel":"Attacking","type":"Pan blue","hue":53,"density":0.0047},{"panel":"Attacking","type":"Pan blue","hue":56,"density":0.0044},{"panel":"Attacking","type":"Pan blue","hue":59,"density":0.0045},{"panel":"Attacking","type":"Pan blue","hue":63,"density":0.0047},{"panel":"Attacking","type":"Pan blue","hue":67,"density":0.0046},{"panel":"Attacking","type":"Pan blue","hue":72,"density":0.0043},{"panel":"Attacking","type":"Pan blue","hue":76,"density":0.0043},{"panel":"Attacking","type":"Pan blue","hue":81,"density":0.0043},{"panel":"Attacking","type":"Pan blue","hue":85,"density":0.0045},{"panel":"Attacking","type":"Pan blue","hue":88,"density":0.0049},{"panel":"Attacking","type":"Pan blue","hue":91,"density":0.0056},{"panel":"Attacking","type":"Pan blue","hue":94,"density":0.0064},{"panel":"Attacking","type":"Pan blue","hue":97,"density":0.0073},{"panel":"Attacking","type":"Pan blue","hue":101,"density":0.0079},{"panel":"Attacking","type":"Pan blue","hue":104,"density":0.0077},{"panel":"Attacking","type":"Pan blue","hue":107,"density":0.0071},{"panel":"Attacking","type":"Pan blue","hue":112,"density":0.0060},{"panel":"Attacking","type":"Pan blue","hue":116,"density":0.0050},{"panel":"Attacking","type":"Pan blue","hue":120,"density":0.0040},{"panel":"Attacking","type":"Pan blue","hue":124,"density":0.0035},{"panel":"Attacking","type":"Pan blue","hue":128,"density":0.0031},{"panel":"Attacking","type":"Pan blue","hue":133,"density":0.0022},{"panel":"Attacking","type":"Pan blue","hue":138,"density":0.0015},{"panel":"Attacking","type":"Pan blue","hue":143,"density":0.0013},{"panel":"Attacking","type":"Pan blue","hue":149,"density":0.0012},{"panel":"Attacking","type":"Pan blue","hue":154,"density":0.0011},{"panel":"Attacking","type":"Pan blue","hue":159,"density":0.0010},{"panel":"Attacking","type":"Pan blue","hue":165,"density":0.0009},{"panel":"Attacking","type":"Pan blue","hue":170,"density":0.0007},{"panel":"Attacking","type":"Pan blue","hue":178,"density":0.0004},
{"panel":"Attacking","type":"Pan green","hue":0,"density":0.0089},{"panel":"Attacking","type":"Pan green","hue":3,"density":0.0118},{"panel":"Attacking","type":"Pan green","hue":7,"density":0.0140},{"panel":"Attacking","type":"Pan green","hue":11,"density":0.0159},{"panel":"Attacking","type":"Pan green","hue":14,"density":0.0155},{"panel":"Attacking","type":"Pan green","hue":17,"density":0.0145},{"panel":"Attacking","type":"Pan green","hue":20,"density":0.0130},{"panel":"Attacking","type":"Pan green","hue":22,"density":0.0115},{"panel":"Attacking","type":"Pan green","hue":26,"density":0.0093},{"panel":"Attacking","type":"Pan green","hue":31,"density":0.0064},{"panel":"Attacking","type":"Pan green","hue":35,"density":0.0050},{"panel":"Attacking","type":"Pan green","hue":40,"density":0.0038},{"panel":"Attacking","type":"Pan green","hue":45,"density":0.0032},{"panel":"Attacking","type":"Pan green","hue":49,"density":0.0029},{"panel":"Attacking","type":"Pan green","hue":54,"density":0.0029},{"panel":"Attacking","type":"Pan green","hue":58,"density":0.0032},{"panel":"Attacking","type":"Pan green","hue":62,"density":0.0034},{"panel":"Attacking","type":"Pan green","hue":67,"density":0.0036},{"panel":"Attacking","type":"Pan green","hue":72,"density":0.0037},{"panel":"Attacking","type":"Pan green","hue":78,"density":0.0037},{"panel":"Attacking","type":"Pan green","hue":81,"density":0.0040},{"panel":"Attacking","type":"Pan green","hue":84,"density":0.0043},{"panel":"Attacking","type":"Pan green","hue":88,"density":0.0050},{"panel":"Attacking","type":"Pan green","hue":91,"density":0.0059},{"panel":"Attacking","type":"Pan green","hue":95,"density":0.0068},{"panel":"Attacking","type":"Pan green","hue":99,"density":0.0076},{"panel":"Attacking","type":"Pan green","hue":102,"density":0.0082},{"panel":"Attacking","type":"Pan green","hue":105,"density":0.0084},{"panel":"Attacking","type":"Pan green","hue":108,"density":0.0080},{"panel":"Attacking","type":"Pan green","hue":112,"density":0.0074},{"panel":"Attacking","type":"Pan green","hue":115,"density":0.0064},{"panel":"Attacking","type":"Pan green","hue":118,"density":0.0054},{"panel":"Attacking","type":"Pan green","hue":122,"density":0.0045},{"panel":"Attacking","type":"Pan green","hue":128,"density":0.0033},{"panel":"Attacking","type":"Pan green","hue":131,"density":0.0030},{"panel":"Attacking","type":"Pan green","hue":134,"density":0.0031},{"panel":"Attacking","type":"Pan green","hue":138,"density":0.0034},{"panel":"Attacking","type":"Pan green","hue":141,"density":0.0036},{"panel":"Attacking","type":"Pan green","hue":145,"density":0.0031},{"panel":"Attacking","type":"Pan green","hue":149,"density":0.0023},{"panel":"Attacking","type":"Pan green","hue":153,"density":0.0015},{"panel":"Attacking","type":"Pan green","hue":157,"density":0.0010},{"panel":"Attacking","type":"Pan green","hue":162,"density":0.0007},{"panel":"Attacking","type":"Pan green","hue":168,"density":0.0005},{"panel":"Attacking","type":"Pan green","hue":173,"density":0.0003},{"panel":"Attacking","type":"Pan green","hue":178,"density":0.0001}
 ]
},
"spacing": 8,
"hconcat": [
 {"width": 17, "height": 580, "data": {"values": [{"label": "Probability density"}]}, "view": {"stroke": null},
  "mark": {"type": "text", "angle": 270, "fontSize": 17, "color": "#000000"}, "encoding": {"text": {"field": "label"}}},
 {"spacing": 0, "vconcat": [
  {"width": 621, "height": 30, "data": {"values": [{"label": "Consolidating Images"}]}, "view": {"fill": "#b3b3b3", "stroke": "#b3b3b3"},
   "mark": {"type": "text", "fontWeight": "bold", "fontSize": 16.5, "color": "#1a1a1a"}, "encoding": {"text": {"field": "label"}}},
  {"width": 621, "height": 241,
   "layer": [
    {"data": {"name": "band"}, "mark": {"type": "rect"},
     "encoding": {
      "x": {"field": "start", "type": "quantitative", "scale": {"domain": [-10, 188], "nice": false, "zero": false},
        "axis": {"grid": true, "values": [0,25,50,75,100,125,150,175], "labelExpr": "datum.value % 50 === 0 ? datum.label : ''", "tickOpacity": {"condition": {"test": "datum.value % 50 !== 0", "value": 0}, "value": 1}, "gridWidth": {"condition": {"test": "datum.value % 50 !== 0", "value": 0.5}, "value": 1}, "gridColor": {"condition": {"test": "datum.value % 50 !== 0", "value": "#ececec"}, "value": "#e0e0e0"}, "title": " ", "titleFontSize": 4, "titlePadding": 3}},
      "x2": {"field": "end"},
      "y": {"datum": 0, "type": "quantitative", "scale": {"domain": [-0.0016, 0.0352], "nice": false, "zero": false},
        "axis": {"grid": true, "values": [0,0.005,0.01,0.015,0.02,0.025,0.03], "format": ".2f", "labelExpr": "round(datum.value*1000) % 10 === 0 ? datum.label : ''", "tickOpacity": {"condition": {"test": "round(datum.value*1000) % 10 !== 0", "value": 0}, "value": 1}, "gridWidth": {"condition": {"test": "round(datum.value*1000) % 10 !== 0", "value": 0.5}, "value": 1}, "gridColor": {"condition": {"test": "round(datum.value*1000) % 10 !== 0", "value": "#ececec"}, "value": "#e0e0e0"}, "title": null}},
      "y2": {"datum": -0.0013},
      "fill": {"field": "band", "type": "ordinal", "legend": null, "scale": {"range": ["#ff0000","#ff2b00","#ff5500","#ff8000","#ffaa00","#ffd500","#ffff00","#d5ff00","#aaff00","#80ff00","#55ff00","#2bff00","#00ff00","#00ff2b","#00ff55","#00ff80","#00ffaa","#00ffd5","#00ffff","#00d5ff","#00aaff","#0080ff","#0055ff","#002bff","#0000ff","#2b00ff","#5500ff","#8000ff","#aa00ff","#d500ff","#ff00ff","#ff00d5","#ff00aa","#ff0080","#ff0055","#ff002b"]}}
     }},
    {"data": {"name": "bars"}, "transform": [{"filter": {"field": "panel", "equal": "Consolidating"}}],
     "mark": {"type": "bar", "fillOpacity": 0.5, "binSpacing": 0},
     "encoding": {
      "x": {"field": "hue", "type": "quantitative", "bin": {"step": 2, "extent": [-1, 179], "nice": false, "anchor": -1}, "scale": {"domain": [-10, 188], "nice": false, "zero": false},
        "axis": {"grid": true, "values": [0,25,50,75,100,125,150,175], "labelExpr": "datum.value % 50 === 0 ? datum.label : ''", "tickOpacity": {"condition": {"test": "datum.value % 50 !== 0", "value": 0}, "value": 1}, "gridWidth": {"condition": {"test": "datum.value % 50 !== 0", "value": 0.5}, "value": 1}, "gridColor": {"condition": {"test": "datum.value % 50 !== 0", "value": "#ececec"}, "value": "#e0e0e0"}, "title": " ", "titleFontSize": 4, "titlePadding": 3}},
      "y": {"field": "density", "aggregate": "sum", "type": "quantitative", "stack": null, "scale": {"domain": [-0.0016, 0.0352], "nice": false, "zero": false},
        "axis": {"grid": true, "values": [0,0.005,0.01,0.015,0.02,0.025,0.03], "format": ".2f", "labelExpr": "round(datum.value*1000) % 10 === 0 ? datum.label : ''", "tickOpacity": {"condition": {"test": "round(datum.value*1000) % 10 !== 0", "value": 0}, "value": 1}, "gridWidth": {"condition": {"test": "round(datum.value*1000) % 10 !== 0", "value": 0.5}, "value": 1}, "gridColor": {"condition": {"test": "round(datum.value*1000) % 10 !== 0", "value": "#ececec"}, "value": "#e0e0e0"}, "title": null}},
      "color": {"field": "type", "type": "nominal", "scale": {"domain": ["Pan blue", "Pan green"], "range": ["#0000c3", "#00af5f"]},
        "legend": {"orient": "none", "legendX": 233, "legendY": -53, "direction": "horizontal", "title": "Type", "titleOrient": "left", "titleFontSize": 16, "titleFontWeight": "bold", "titleColor": "#000000", "titlePadding": 8, "labelFontSize": 16, "labelFontWeight": "bold", "labelColor": "#000000", "labelOffset": 8, "columnPadding": 5, "symbolType": "square", "symbolSize": 576,
          "encode": {"symbols": {"update": {"fillOpacity": {"value": 0.5}, "opacity": {"value": 1}, "strokeWidth": {"value": 2.5}, "stroke": {"signal": "datum.value === 'Pan blue' ? '#1111bb' : '#1db07a'"}}}}}}
     }},
    {"data": {"name": "curves"}, "transform": [{"filter": {"field": "panel", "equal": "Consolidating"}}],
     "mark": {"type": "line", "strokeWidth": 2.6, "interpolate": "monotone"},
     "encoding": {
      "x": {"field": "hue", "type": "quantitative", "scale": {"domain": [-10, 188], "nice": false, "zero": false},
        "axis": {"grid": true, "values": [0,25,50,75,100,125,150,175], "labelExpr": "datum.value % 50 === 0 ? datum.label : ''", "tickOpacity": {"condition": {"test": "datum.value % 50 !== 0", "value": 0}, "value": 1}, "gridWidth": {"condition": {"test": "datum.value % 50 !== 0", "value": 0.5}, "value": 1}, "gridColor": {"condition": {"test": "datum.value % 50 !== 0", "value": "#ececec"}, "value": "#e0e0e0"}, "title": " ", "titleFontSize": 4, "titlePadding": 3}},
      "y": {"field": "density", "type": "quantitative", "scale": {"domain": [-0.0016, 0.0352], "nice": false, "zero": false},
        "axis": {"grid": true, "values": [0,0.005,0.01,0.015,0.02,0.025,0.03], "format": ".2f", "labelExpr": "round(datum.value*1000) % 10 === 0 ? datum.label : ''", "tickOpacity": {"condition": {"test": "round(datum.value*1000) % 10 !== 0", "value": 0}, "value": 1}, "gridWidth": {"condition": {"test": "round(datum.value*1000) % 10 !== 0", "value": 0.5}, "value": 1}, "gridColor": {"condition": {"test": "round(datum.value*1000) % 10 !== 0", "value": "#ececec"}, "value": "#e0e0e0"}, "title": null}},
      "stroke": {"field": "type", "type": "nominal", "scale": {"domain": ["Pan blue", "Pan green"], "range": ["#0a0aa8", "#12a870"]}, "legend": null}
     }}
   ]},
  {"width": 621, "height": 30, "data": {"values": [{"label": "Attacking Images"}]}, "view": {"fill": "#b3b3b3", "stroke": "#b3b3b3"},
   "mark": {"type": "text", "fontWeight": "bold", "fontSize": 16.5, "color": "#1a1a1a"}, "encoding": {"text": {"field": "label"}}},
  {"width": 621, "height": 241,
   "layer": [
    {"data": {"name": "band"}, "mark": {"type": "rect"},
     "encoding": {
      "x": {"field": "start", "type": "quantitative", "scale": {"domain": [-10, 188], "nice": false, "zero": false},
        "axis": {"grid": true, "values": [0,25,50,75,100,125,150,175], "labelExpr": "datum.value % 50 === 0 ? datum.label : ''", "tickOpacity": {"condition": {"test": "datum.value % 50 !== 0", "value": 0}, "value": 1}, "gridWidth": {"condition": {"test": "datum.value % 50 !== 0", "value": 0.5}, "value": 1}, "gridColor": {"condition": {"test": "datum.value % 50 !== 0", "value": "#ececec"}, "value": "#e0e0e0"}, "title": "Hue", "titleFontSize": 16, "titlePadding": 2}},
      "x2": {"field": "end"},
      "y": {"datum": 0, "type": "quantitative", "scale": {"domain": [-0.0016, 0.0352], "nice": false, "zero": false},
        "axis": {"grid": true, "values": [0,0.005,0.01,0.015,0.02,0.025,0.03], "format": ".2f", "labelExpr": "round(datum.value*1000) % 10 === 0 ? datum.label : ''", "tickOpacity": {"condition": {"test": "round(datum.value*1000) % 10 !== 0", "value": 0}, "value": 1}, "gridWidth": {"condition": {"test": "round(datum.value*1000) % 10 !== 0", "value": 0.5}, "value": 1}, "gridColor": {"condition": {"test": "round(datum.value*1000) % 10 !== 0", "value": "#ececec"}, "value": "#e0e0e0"}, "title": null}},
      "y2": {"datum": -0.0013},
      "fill": {"field": "band", "type": "ordinal", "legend": null, "scale": {"range": ["#ff0000","#ff2b00","#ff5500","#ff8000","#ffaa00","#ffd500","#ffff00","#d5ff00","#aaff00","#80ff00","#55ff00","#2bff00","#00ff00","#00ff2b","#00ff55","#00ff80","#00ffaa","#00ffd5","#00ffff","#00d5ff","#00aaff","#0080ff","#0055ff","#002bff","#0000ff","#2b00ff","#5500ff","#8000ff","#aa00ff","#d500ff","#ff00ff","#ff00d5","#ff00aa","#ff0080","#ff0055","#ff002b"]}}
     }},
    {"data": {"name": "bars"}, "transform": [{"filter": {"field": "panel", "equal": "Attacking"}}],
     "mark": {"type": "bar", "fillOpacity": 0.5, "binSpacing": 0},
     "encoding": {
      "x": {"field": "hue", "type": "quantitative", "bin": {"step": 2, "extent": [-1, 179], "nice": false, "anchor": -1}, "scale": {"domain": [-10, 188], "nice": false, "zero": false},
        "axis": {"grid": true, "values": [0,25,50,75,100,125,150,175], "labelExpr": "datum.value % 50 === 0 ? datum.label : ''", "tickOpacity": {"condition": {"test": "datum.value % 50 !== 0", "value": 0}, "value": 1}, "gridWidth": {"condition": {"test": "datum.value % 50 !== 0", "value": 0.5}, "value": 1}, "gridColor": {"condition": {"test": "datum.value % 50 !== 0", "value": "#ececec"}, "value": "#e0e0e0"}, "title": "Hue", "titleFontSize": 16, "titlePadding": 2}},
      "y": {"field": "density", "aggregate": "sum", "type": "quantitative", "stack": null, "scale": {"domain": [-0.0016, 0.0352], "nice": false, "zero": false},
        "axis": {"grid": true, "values": [0,0.005,0.01,0.015,0.02,0.025,0.03], "format": ".2f", "labelExpr": "round(datum.value*1000) % 10 === 0 ? datum.label : ''", "tickOpacity": {"condition": {"test": "round(datum.value*1000) % 10 !== 0", "value": 0}, "value": 1}, "gridWidth": {"condition": {"test": "round(datum.value*1000) % 10 !== 0", "value": 0.5}, "value": 1}, "gridColor": {"condition": {"test": "round(datum.value*1000) % 10 !== 0", "value": "#ececec"}, "value": "#e0e0e0"}, "title": null}},
      "color": {"field": "type", "type": "nominal", "scale": {"domain": ["Pan blue", "Pan green"], "range": ["#0000c3", "#00af5f"]},
        "legend": {"orient": "none", "legendX": 233, "legendY": -53, "direction": "horizontal", "title": "Type", "titleOrient": "left", "titleFontSize": 16, "titleFontWeight": "bold", "titleColor": "#000000", "titlePadding": 8, "labelFontSize": 16, "labelFontWeight": "bold", "labelColor": "#000000", "labelOffset": 8, "columnPadding": 5, "symbolType": "square", "symbolSize": 576,
          "encode": {"symbols": {"update": {"fillOpacity": {"value": 0.5}, "opacity": {"value": 1}, "strokeWidth": {"value": 2.5}, "stroke": {"signal": "datum.value === 'Pan blue' ? '#1111bb' : '#1db07a'"}}}}}}
     }},
    {"data": {"name": "curves"}, "transform": [{"filter": {"field": "panel", "equal": "Attacking"}}],
     "mark": {"type": "line", "strokeWidth": 2.6, "interpolate": "monotone"},
     "encoding": {
      "x": {"field": "hue", "type": "quantitative", "scale": {"domain": [-10, 188], "nice": false, "zero": false},
        "axis": {"grid": true, "values": [0,25,50,75,100,125,150,175], "labelExpr": "datum.value % 50 === 0 ? datum.label : ''", "tickOpacity": {"condition": {"test": "datum.value % 50 !== 0", "value": 0}, "value": 1}, "gridWidth": {"condition": {"test": "datum.value % 50 !== 0", "value": 0.5}, "value": 1}, "gridColor": {"condition": {"test": "datum.value % 50 !== 0", "value": "#ececec"}, "value": "#e0e0e0"}, "title": "Hue", "titleFontSize": 16, "titlePadding": 2}},
      "y": {"field": "density", "type": "quantitative", "scale": {"domain": [-0.0016, 0.0352], "nice": false, "zero": false},
        "axis": {"grid": true, "values": [0,0.005,0.01,0.015,0.02,0.025,0.03], "format": ".2f", "labelExpr": "round(datum.value*1000) % 10 === 0 ? datum.label : ''", "tickOpacity": {"condition": {"test": "round(datum.value*1000) % 10 !== 0", "value": 0}, "value": 1}, "gridWidth": {"condition": {"test": "round(datum.value*1000) % 10 !== 0", "value": 0.5}, "value": 1}, "gridColor": {"condition": {"test": "round(datum.value*1000) % 10 !== 0", "value": "#ececec"}, "value": "#e0e0e0"}, "title": null}},
      "stroke": {"field": "type", "type": "nominal", "scale": {"domain": ["Pan blue", "Pan green"], "range": ["#0a0aa8", "#12a870"]}, "legend": null}
     }}
   ]}
 ]}
]
}
